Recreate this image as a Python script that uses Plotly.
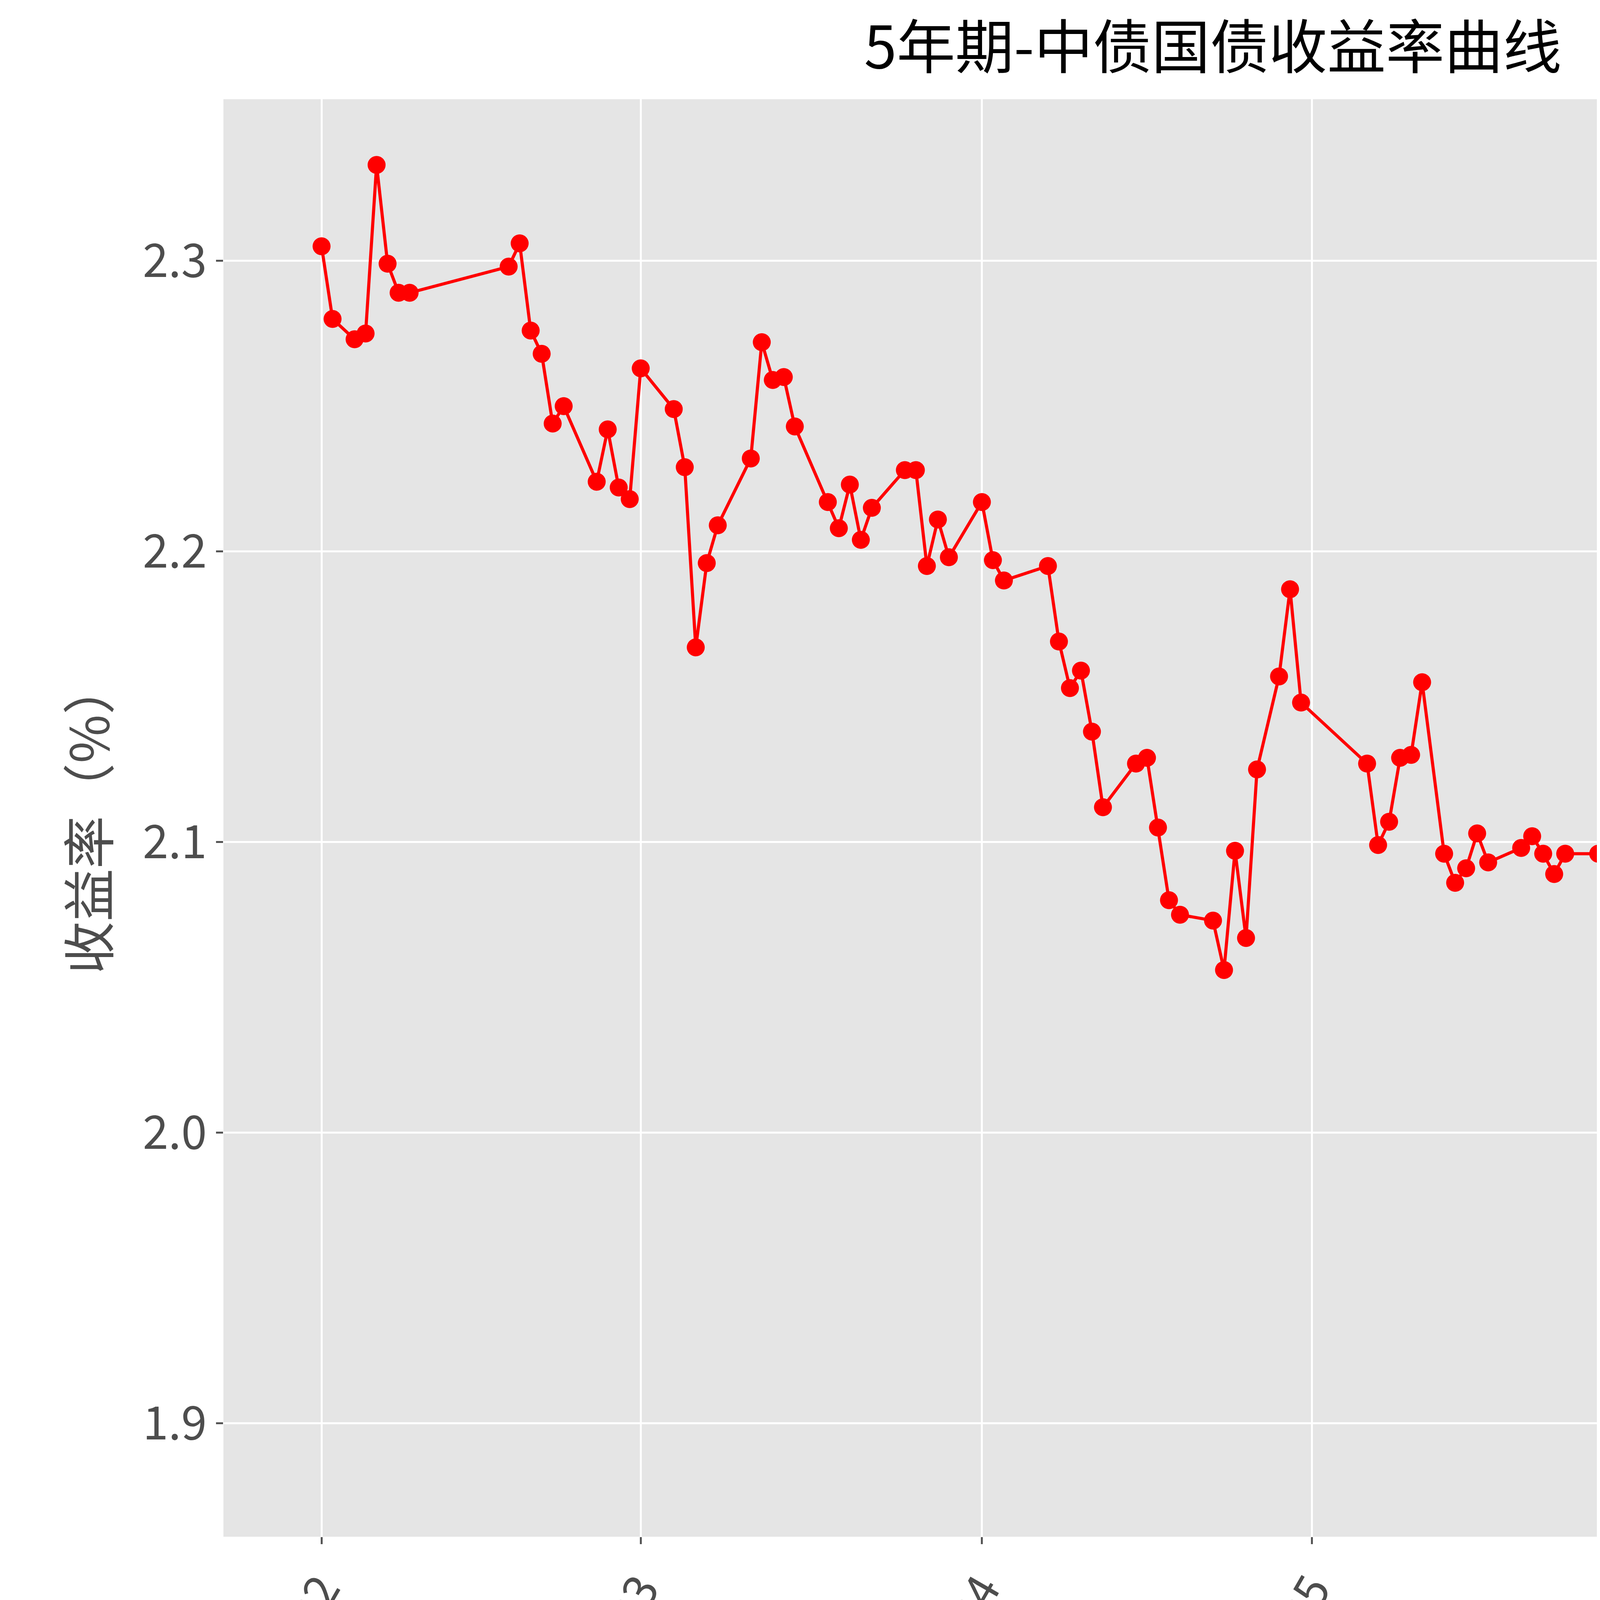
import plotly.graph_objects as go

DATES = [
    "2024-02-01", "2024-02-02", "2024-02-04", "2024-02-05", "2024-02-06", "2024-02-07", "2024-02-08", "2024-02-09",
    "2024-02-18", "2024-02-19", "2024-02-20", "2024-02-21", "2024-02-22", "2024-02-23",
    "2024-02-26", "2024-02-27", "2024-02-28", "2024-02-29", "2024-03-01",
    "2024-03-04", "2024-03-05", "2024-03-06", "2024-03-07", "2024-03-08",
    "2024-03-11", "2024-03-12", "2024-03-13", "2024-03-14", "2024-03-15",
    "2024-03-18", "2024-03-19", "2024-03-20", "2024-03-21", "2024-03-22",
    "2024-03-25", "2024-03-26", "2024-03-27", "2024-03-28", "2024-03-29",
    "2024-04-01", "2024-04-02", "2024-04-03", "2024-04-07", "2024-04-08",
    "2024-04-09", "2024-04-10", "2024-04-11", "2024-04-12",
    "2024-04-15", "2024-04-16", "2024-04-17", "2024-04-18", "2024-04-19",
    "2024-04-22", "2024-04-23", "2024-04-24", "2024-04-25", "2024-04-26",
    "2024-04-28", "2024-04-29", "2024-04-30",
    "2024-05-06", "2024-05-07", "2024-05-08", "2024-05-09", "2024-05-10", "2024-05-11",
    "2024-05-13", "2024-05-14", "2024-05-15", "2024-05-16", "2024-05-17",
    "2024-05-20", "2024-05-21", "2024-05-22", "2024-05-23", "2024-05-24",
    "2024-05-27", "2024-05-28", "2024-05-29", "2024-05-30", "2024-05-31",
    "2024-06-03", "2024-06-04", "2024-06-05", "2024-06-06", "2024-06-07",
    "2024-06-11", "2024-06-12", "2024-06-13", "2024-06-14",
    "2024-06-17", "2024-06-18", "2024-06-19", "2024-06-20", "2024-06-21",
    "2024-06-24", "2024-06-25", "2024-06-26", "2024-06-27", "2024-06-28",
    "2024-07-01", "2024-07-02", "2024-07-03", "2024-07-04", "2024-07-05",
    "2024-07-08", "2024-07-09", "2024-07-10", "2024-07-11", "2024-07-12",
    "2024-07-15", "2024-07-16", "2024-07-17", "2024-07-18", "2024-07-19",
    "2024-07-22", "2024-07-23", "2024-07-24", "2024-07-25", "2024-07-26",
    "2024-07-29", "2024-07-30",
]

YIELDS = [
    2.305, 2.280, 2.273, 2.275, 2.333, 2.299, 2.289, 2.289,
    2.298, 2.306, 2.276, 2.268, 2.244, 2.250,
    2.224, 2.242, 2.222, 2.218, 2.263,
    2.249, 2.229, 2.167, 2.196, 2.209,
    2.232, 2.272, 2.259, 2.260, 2.243,
    2.217, 2.208, 2.223, 2.204, 2.215,
    2.228, 2.228, 2.195, 2.211, 2.198,
    2.217, 2.197, 2.190, 2.195, 2.169,
    2.153, 2.159, 2.138, 2.112,
    2.127, 2.129, 2.105, 2.080, 2.075,
    2.073, 2.056, 2.097, 2.067, 2.125,
    2.157, 2.187, 2.148,
    2.127, 2.099, 2.107, 2.129, 2.130, 2.155,
    2.096, 2.086, 2.091, 2.103, 2.093,
    2.098, 2.102, 2.096, 2.089, 2.096,
    2.096, 2.088, 2.085, 2.086, 2.085,
    2.070, 2.071, 2.057, 2.059, 2.059,
    2.055, 2.063, 2.065, 2.059,
    2.066, 2.057, 2.023, 2.028, 2.039,
    2.025, 2.016, 1.999, 1.977, 1.978,
    2.020, 1.987, 1.959, 1.971, 2.000,
    2.035, 2.008, 2.013, 2.007, 2.002,
    1.989, 1.984, 1.958, 1.960, 1.953,
    1.914, 1.892, 1.897, 1.893, 1.898,
    1.894, 1.884,
]

TICK_DATES = ["2024-02-01", "2024-03-01", "2024-04-01", "2024-05-01", "2024-06-01", "2024-07-01", "2024-08-01"]
TICK_LABELS = ["2024-02", "2024-03", "2024-04", "2024-05", "2024-06", "2024-07", "2024-08"]

FONT = "Noto Sans CJK SC"

fig = go.Figure()
fig.add_trace(go.Scatter(
    x=DATES, y=YIELDS, mode="lines+markers",
    line={"color": "#ff0000", "width": 8},
    marker={"color": "#ff0000", "size": 46},
    showlegend=False,
))

axis_common = dict(
    showgrid=True, gridcolor="white", gridwidth=5, zeroline=False,
    ticks="outside", ticklen=18, tickwidth=5, tickcolor="#555555",
    tickfont={"family": FONT, "size": 118, "color": "#4d4d4d"},
    showline=False,
)

fig.update_layout(
    width=6194, height=4573,
    paper_bgcolor="white", plot_bgcolor="#e5e5e5",
    margin={"l": 564, "r": 48, "t": 246, "b": 647},
    title={"text": "5年期-中债国债收益率曲线", "x": 0.5, "xanchor": "center",
           "y": 0.975, "yanchor": "middle",
           "font": {"family": FONT, "size": 150, "color": "black"}},
    xaxis=dict(axis_common, range=["2024-01-23 02:00", "2024-08-08 05:00"],
               tickvals=TICK_DATES, ticktext=TICK_LABELS, tickangle=-60),
    yaxis=dict(axis_common, range=[1.861, 2.3556], tickvals=[1.9, 2.0, 2.1, 2.2, 2.3],
               ticktext=["1.9", "2.0", "2.1", "2.2", "2.3"],
               title={"text": "收益率（%）", "standoff": 40,
                      "font": {"family": FONT, "size": 135, "color": "#4d4d4d"}}),
)

fig.write_html("out.html")
